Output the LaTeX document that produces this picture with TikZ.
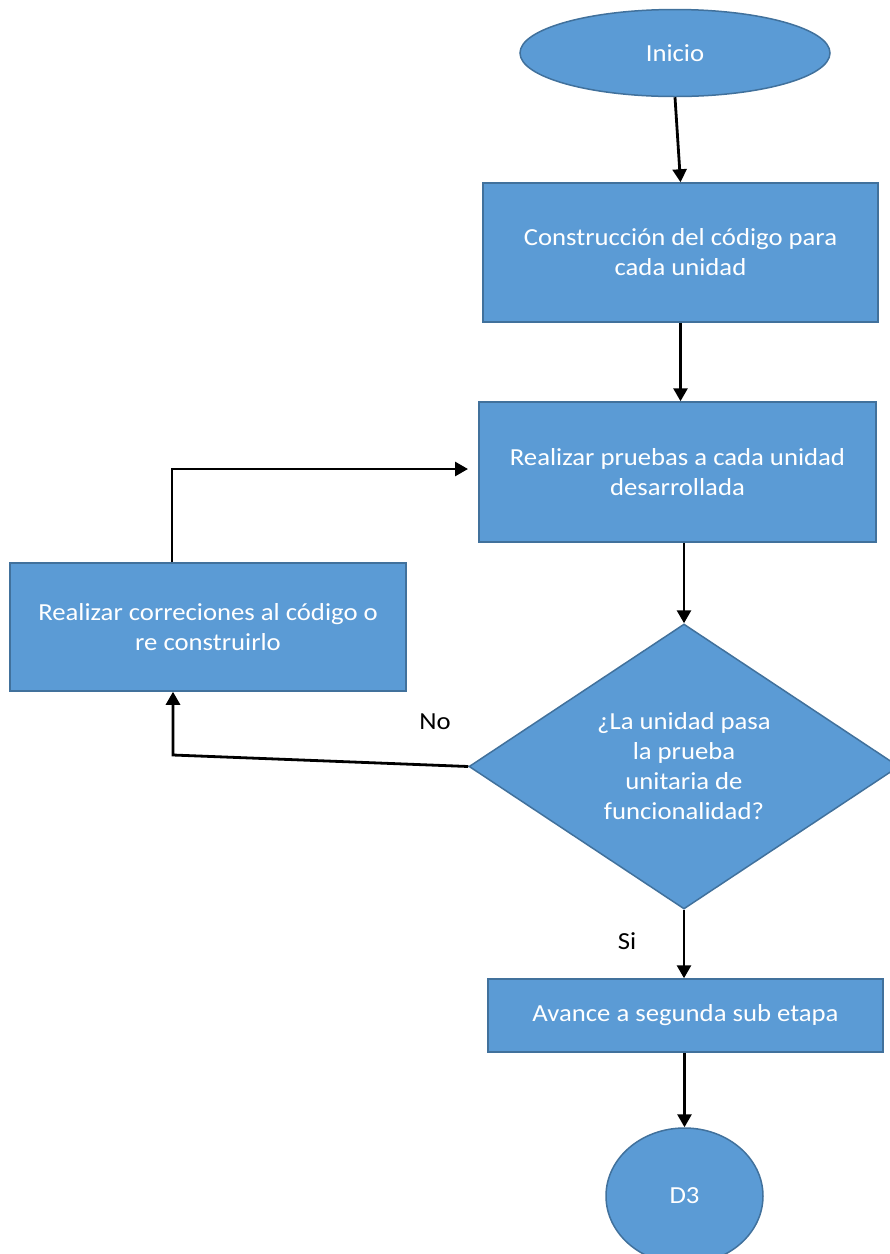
\documentclass[tikz,border=0pt]{standalone}
\usepackage{fontspec}
\setmainfont{Carlito}[FakeStretch=1.09]
\usepackage{tikz}
\usetikzlibrary{arrows.meta,positioning,shapes.geometric}
\definecolor{boxfill}{RGB}{91,155,213}
\definecolor{boxline}{RGB}{65,113,156}
\tikzset{
  arrow/.style={-{Triangle[length=13pt,width=14pt]},line width=2.8pt},
  process/.style={draw=boxline,fill=boxfill,line width=1.5pt,text=white,
    align=center,inner sep=0pt,font=\fontsize{24.5}{30}\selectfont},
  terminal/.style={process,ellipse},
  decision/.style={process,diamond},
  answer/.style={font=\fontsize{24.5}{30}\selectfont,inner sep=0pt}
}

\begin{document}
\begin{tikzpicture}[x=1pt,y=-1pt]
  \useasboundingbox (0,0) rectangle (890,1254);

  % main column
  \node[terminal,minimum width=310pt,minimum height=87pt] (inicio) at (675,53) {Inicio};
  \node[process,minimum width=395pt,minimum height=139pt] (constr) at (680.5,252.5)
    {Construcción del código para\\cada unidad};
  \node[process,minimum width=397pt,minimum height=140pt] (prueba) at (677.5,472)
    {Realizar pruebas a cada unidad\\desarrollada};
  \node[decision,minimum width=430pt,minimum height=285pt] (dec) at (684,766.5)
    {¿La unidad pasa\\la prueba\\unitaria de\\funcionalidad?};
  \node[process,minimum width=395pt,minimum height=73pt] (avance) at (685.5,1015.5)
    {Avance a segunda sub etapa};
  \node[terminal,minimum width=157pt,minimum height=136pt] (fin) at (684.5,1196) {D3};

  % correction loop
  \node[process,minimum width=396pt,minimum height=128pt] (corr) at (208,627)
    {Realizar correciones al código o\\re construirlo};
  \coordinate (nocorner) at (173,755);
  \coordinate (loopup) at (172,469);
  \coordinate (loopend) at (468,469);

  \draw[arrow] (inicio.south) -- (constr.north);
  \draw[arrow] (constr.south) -- (constr.south |- prueba.north);
  \draw[arrow] (prueba.south -| dec.north) -- (dec.north);
  \draw[arrow] (dec.south) -- (dec.south |- avance.north);
  \draw[arrow] (avance.south -| fin.north) -- (fin.north);
  \draw[arrow] (dec.west) -- (nocorner) -- (nocorner |- corr.south);
  \draw[arrow] (loopup |- corr.north) -- (loopup) -- (loopend);

  \node[answer] (no) at (435,722) {No};
  \node[answer] (si) at (627,941) {Si};
\end{tikzpicture}
\end{document}
